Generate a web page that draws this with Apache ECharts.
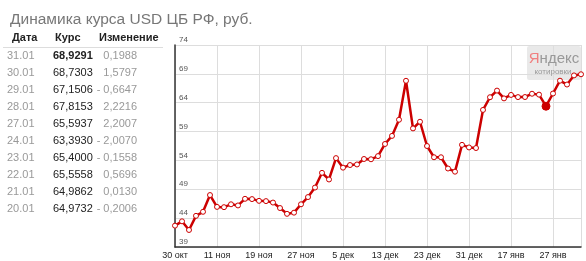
<!DOCTYPE html>
<html><head><meta charset="utf-8">
<script src="https://cdn.jsdelivr.net/npm/echarts@6/dist/echarts.min.js"></script>
<style>html,body{margin:0;padding:0;background:#fff}#c{width:586px;height:261px}</style>
</head><body><div id="c"></div>
<script>
const categories = ['30 окт','31 окт','1 ноя','6 ноя','7 ноя','8 ноя','11 ноя','12 ноя','13 ноя','14 ноя','15 ноя','18 ноя','19 ноя','20 ноя','21 ноя','22 ноя','25 ноя','26 ноя','27 ноя','28 ноя','29 ноя','2 дек','3 дек','4 дек','5 дек','6 дек','9 дек','10 дек','11 дек','12 дек','13 дек','16 дек','17 дек','18 дек','19 дек','20 дек','23 дек','24 дек','25 дек','26 дек','27 дек','30 дек','31 дек','1 янв','13 янв','14 янв','15 янв','16 янв','17 янв','20 янв','21 янв','22 янв','23 янв','24 янв','27 янв','28 янв','29 янв','30 янв','31 янв'];
const rates = [42.7,43.45,41.95,44.4,45.1,48.0,45.95,45.9,46.4,46.2,47.35,47.3,47.0,46.95,46.7,45.75,44.75,44.95,46.4,47.65,49.3,51.85,50.7,54.4,52.75,53.2,53.3,54.25,54.2,54.75,56.85,58.25,61.05,67.8,59.55,60.7,56.5,54.55,54.55,52.6,52.05,56.7,56.25,56.15,62.75,64.95,66.1,64.75,65.35,64.9732,64.9862,65.5558,65.4,63.393,65.5937,67.8153,67.1506,68.7303,68.9291];
const highlightIndex = 53;
const yTicks = {min: 39, max: 74, step: 5};
const tableHeader = ['Дата','Курс','Изменение'];
const tableDates = ['31.01','30.01','29.01','28.01','27.01','24.01','23.01','22.01','21.01','20.01'];
const tableRates = ['68,9291','68,7303','67,1506','67,8153','65,5937','63,3930','65,4000','65,5558','64,9862','64,9732'];
const tableChanges = ['0,1988','1,5797','- 0,6647','2,2216','2,2007','- 2,0070','- 0,1558','0,5696','0,0130','- 0,2006'];
const titleText = 'Динамика курса USD ЦБ РФ, руб.';

const FONT = '"Liberation Sans", Arial, sans-serif';
const chart = echarts.init(document.getElementById('c'), null, {renderer:'canvas'});

const graphics = [];
const hx = [12, 55, 99];
tableHeader.forEach((t,i)=>graphics.push({type:'text', left:hx[i], top:32, z:10,
  style:{text:t, font:'bold 11px '+FONT, fill:'#222'}}));
graphics.push({type:'line', shape:{x1:3,y1:47.5,x2:163,y2:47.5}, style:{stroke:'#ddd', lineWidth:1}});
tableDates.forEach((d,k)=>{
  const y = 50 + 17*k;
  graphics.push({type:'text', left:7, top:y, style:{text:d, font:'11px '+FONT, fill:'#999'}});
  graphics.push({type:'text', left:53, top:y, style:{text:tableRates[k], font:(k===0?'bold ':'')+'11px '+FONT, fill:'#222'}});
  graphics.push({type:'text', x:137, y:y, style:{text:tableChanges[k], font:'11px '+FONT, fill:'#999', align:'right', verticalAlign:'top'}});
});
graphics.push({type:'rect', shape:{x:527,y:46,width:54,height:34,r:2}, style:{fill:'rgba(225,225,225,0.75)'}, z:0});
graphics.push({type:'text', x:554, y:59, z:1, style:{text:'{a|Я}{b|ндекс}', align:'center', verticalAlign:'middle',
  rich:{a:{fontFamily:FONT, fontSize:15, fill:'#f08080', color:'#f08080'}, b:{fontFamily:FONT, fontSize:15, color:'#999', fill:'#999'}}}});
graphics.push({type:'text', x:553, y:72, z:1, style:{text:'котировки', align:'center', verticalAlign:'middle', font:'8px '+FONT, fill:'#999'}});

const seriesData = rates.map((v,i)=> i===highlightIndex ?
  {value:v, symbolSize:8, itemStyle:{color:'#cc0000', borderColor:'#cc0000'}} : v);

chart.setOption({
  animation:false,
  textStyle:{fontFamily:FONT},
  title:{text:titleText, left:5, top:7, textStyle:{fontSize:15.5, fontWeight:'normal', color:'#777', fontFamily:FONT}},
  graphic: graphics,
  grid:{left:175, top:45, width:406, height:202},
  xAxis:{type:'category', data:categories, boundaryGap:false,
    axisLine:{lineStyle:{color:'#333', width:1.5}},
    axisTick:{show:false},
    axisLabel:{interval:(i)=>i%6===0, color:'#222', fontSize:9, margin:4},
    splitLine:{show:true, interval:(i)=>i%6===0 || i===categories.length-1, lineStyle:{color:'#ddd', width:1}}},
  yAxis:{type:'value', min:yTicks.min, max:yTicks.max, interval:yTicks.step,
    axisLine:{show:true, lineStyle:{color:'#333', width:1.5}},
    axisTick:{show:false},
    axisLabel:{inside:true, margin:4, verticalAlign:'bottom', color:'#555', fontSize:8, padding:[0,0,1,0]},
    splitLine:{lineStyle:{color:'#ddd', width:1}}},
  series:[{type:'line', data:seriesData, z:5, showAllSymbol:true,
    lineStyle:{color:'#cc0000', width:2.5},
    symbol:'circle', symbolSize:5, showSymbol:true,
    itemStyle:{color:'#fff', borderColor:'#cc0000', borderWidth:1}}]
});
</script></body></html>
